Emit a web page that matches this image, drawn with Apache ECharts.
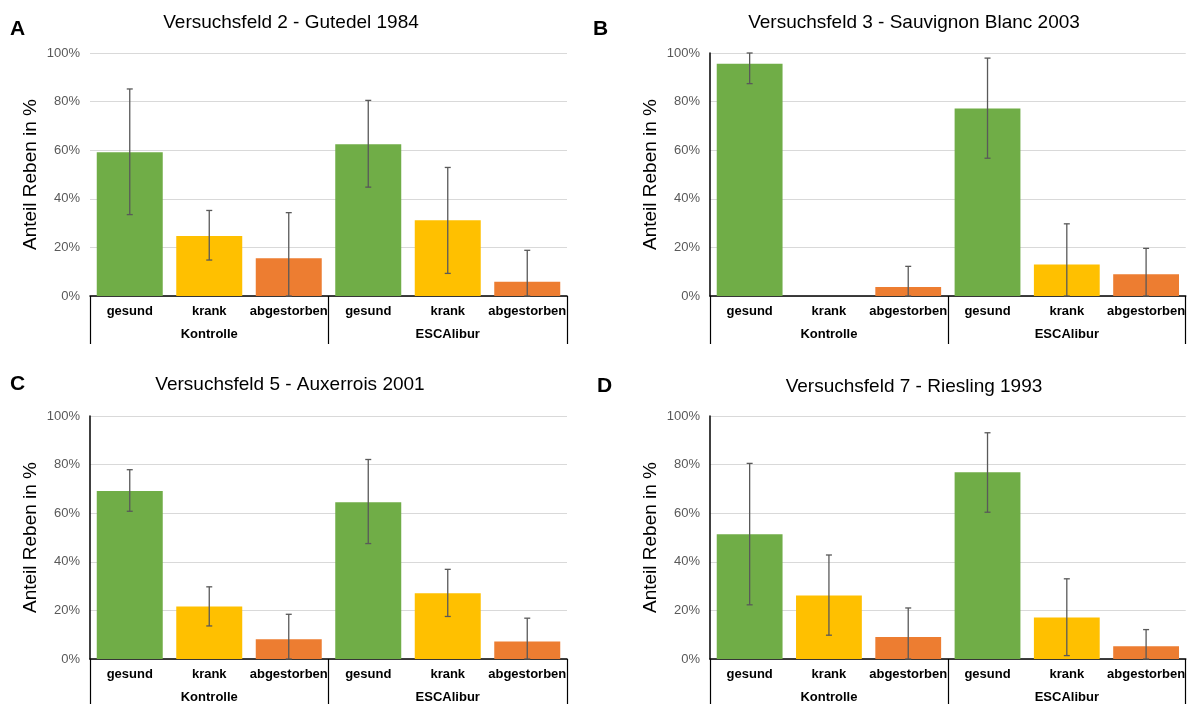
<!DOCTYPE html>
<html>
<head>
<meta charset="utf-8">
<script src="https://cdn.jsdelivr.net/npm/echarts@6/dist/echarts.min.js"></script>
<style>
    html, body { margin:0; padding:0; background:#fff; }
    #main { width:1188px; height:704px; }
</style>
</head>
<body>
<div id="main"></div>
<script>
    var categories = ['gesund','krank','abgestorben','gesund','krank','abgestorben'];
    var groups = ['Kontrolle','ESCAlibur'];
    var bar_colors = ['#70ad47','#ffc000','#ed7d31','#70ad47','#ffc000','#ed7d31'];

    // Mittelwerte und Fehlerbalken (untere / obere Grenze) in %
    var mean_A = [59.2, 24.7, 15.5, 62.5, 31.2, 5.9];
    var low_A  = [33.5, 14.8, 0, 44.8, 9.3, 0];
    var high_A = [85.2, 35.2, 34.3, 80.5, 52.9, 18.8];

    var mean_B = [95.6, 0, 3.7, 77.2, 13.0, 8.9];
    var low_B  = [87.4, null, 0, 56.7, 0, 0];
    var high_B = [100, null, 12.2, 97.9, 29.7, 19.6];

    var mean_C = [69.1, 21.6, 8.1, 64.5, 27.1, 7.2];
    var low_C  = [60.8, 13.6, 0, 47.5, 17.5, 0];
    var high_C = [77.9, 29.7, 18.4, 82.1, 36.9, 16.8];

    var mean_D = [51.3, 26.1, 9.1, 76.9, 17.1, 5.2];
    var low_D  = [22.3, 9.8, 0, 60.4, 1.4, 0];
    var high_D = [80.5, 42.8, 21.0, 93.1, 33.0, 12.1];

    var titles = ['Versuchsfeld 2 - Gutedel 1984','Versuchsfeld 3 - Sauvignon Blanc 2003',
                  'Versuchsfeld 5 - Auxerrois 2001','Versuchsfeld 7 - Riesling 1993'];
    var letters = ['A','B','C','D'];
    var y_name = 'Anteil Reben in %';

    var panels = [
        {mean:mean_A, low:low_A, high:high_A, left:90,  top:53,  tx:291, ty:13,  lx:10,  ly:19,  yline:false, tick:48},
        {mean:mean_B, low:low_B, high:high_B, left:710, top:53,  tx:914, ty:13,  lx:593, ly:19,  yline:true,  tick:48},
        {mean:mean_C, low:low_C, high:high_C, left:90,  top:416, tx:290, ty:375, lx:10,  ly:374, yline:true,  tick:45},
        {mean:mean_D, low:low_D, high:high_D, left:710, top:416, tx:914, ty:377, lx:597, ly:376, yline:true,  tick:45}
    ];

    var font = 'Liberation Sans, Arial, sans-serif';
    var option = {
        animation:false,
        textStyle:{fontFamily:font},
        title:[], grid:[], xAxis:[], yAxis:[], series:[]
    };

    function error_render(params, api){//Fehlerbalken mit Querstrichen
        var x = api.value(0);
        var lo = api.coord([x, api.value(1)]);
        var hi = api.coord([x, api.value(2)]);
        var cap = 3;
        var style = {stroke:'#595959', lineWidth:1.3};
        return {
            type:'group',
            children:[
                {type:'line', shape:{x1:lo[0], y1:lo[1], x2:hi[0], y2:hi[1]}, style:style},
                {type:'line', shape:{x1:hi[0]-cap, y1:hi[1], x2:hi[0]+cap, y2:hi[1]}, style:style},
                {type:'line', shape:{x1:lo[0]-cap, y1:lo[1], x2:lo[0]+cap, y2:lo[1]}, style:style}
            ]
        };
    }

    panels.forEach(function(p, i){
        option.title.push({
            text:titles[i], left:p.tx, top:p.ty, textAlign:'center', padding:0,
            textStyle:{fontFamily:font, fontSize:19, fontWeight:'normal', color:'#000'}
        });
        option.title.push({
            text:letters[i], left:p.lx, top:p.ly, padding:0,
            textStyle:{fontFamily:font, fontSize:21, fontWeight:'bold', color:'#000'}
        });
        option.grid.push({left:p.left, top:p.top, width:477, height:243});
        option.xAxis.push({
            type:'category', gridIndex:i, data:categories,
            axisLine:{lineStyle:{color:'#000', width:1.5}},
            axisTick:{show:false},
            axisLabel:{interval:0, margin:9, fontSize:13, fontWeight:'bold', color:'#000', fontFamily:font}
        });
        option.xAxis.push({
            type:'category', gridIndex:i, data:groups, position:'bottom',
            axisLine:{show:false},
            axisTick:{show:true, length:p.tick, lineStyle:{color:'#000', width:1.2}},
            axisLabel:{margin:32, fontSize:13, fontWeight:'bold', color:'#000', fontFamily:font}
        });
        option.yAxis.push({
            type:'value', gridIndex:i, min:0, max:100, interval:20,
            name:y_name, nameLocation:'middle', nameGap:50,
            nameTextStyle:{fontSize:19, color:'#000', fontFamily:font},
            axisLine:{show:p.yline, lineStyle:{color:'#000', width:1.5}},
            axisTick:{show:false},
            splitLine:{lineStyle:{color:'#d9d9d9', width:1.2}},
            axisLabel:{formatter:'{value}%', margin:10, fontSize:13, color:'#595959', fontFamily:font}
        });
        option.series.push({
            type:'bar', xAxisIndex:i*2, yAxisIndex:i,
            barCategoryGap:'17%',
            data:p.mean.map(function(v, k){
                return {value:v, itemStyle:{color:bar_colors[k]}};
            })
        });
        var err = [];
        p.mean.forEach(function(v, k){
            if(p.low[k] != null){
                err.push([k, p.low[k], p.high[k]]);
            }
        });
        option.series.push({
            type:'custom', xAxisIndex:i*2, yAxisIndex:i,
            renderItem:error_render,
            encode:{x:0, y:[1,2]},
            data:err, z:5
        });
    });

    var chart = echarts.init(document.getElementById('main'));
    chart.setOption(option);
</script>
</body>
</html>
